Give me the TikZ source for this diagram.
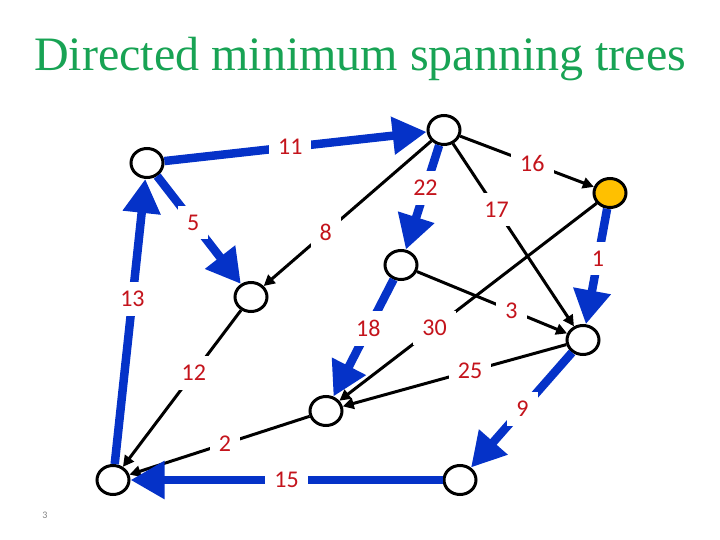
\documentclass[tikz,border=0pt]{standalone}
\usepackage{fontspec}
\setmainfont{Liberation Serif}
\newfontfamily\labelfont{Carlito}
\usetikzlibrary{arrows.meta,shapes.geometric}
\definecolor{titlegreen}{RGB}{24,163,84}
\definecolor{treeblue}{RGB}{5,50,200}
\definecolor{weightred}{RGB}{196,20,28}
\definecolor{rootorange}{RGB}{255,192,0}

\begin{document}
\begin{tikzpicture}[x=1pt,y=-1pt]
        {

          \tikzstyle{place}=[ellipse,line width=3pt,draw=black,fill=white,minimum width=32pt,minimum height=29pt,inner sep=0pt]
          \tikzstyle{root}=[place,fill=rootorange]
          \tikzstyle{plain}=[line width=3pt,draw=black,>={Triangle[length=11pt,width=11pt]}]
          \tikzstyle{tree}=[line width=8.5pt,draw=treeblue,>={Triangle[length=34pt,width=36pt]}]
          \tikzstyle{weight}=[fill=white,text=weightred,font=\labelfont\fontsize{24}{24}\selectfont,inner sep=9pt]
          \useasboundingbox (0,0) rectangle (720,540);

          \node (title) [anchor=base,text=titlegreen,font=\fontsize{48}{48}\selectfont] at (360,71) {Directed minimum spanning trees};
          \node (page) [text=gray,font=\labelfont\fontsize{10}{10}\selectfont] at (45,515) {3};

          \begin{scope}

            \node [place] (v1) at (147,163) {};

            \node [place] (v2) at (444,130) {}
            edge [tree,<-] node [weight,pos=0.52] {11} (v1);

            \node [root] (v3) at (610,193) {}
            edge [plain,<-] node [weight,pos=0.46] {16} (v2);

            \node [place] (v4) at (401,265) {}
            edge [tree,<-] node [weight,pos=0.59] {22} (v2);

            \node [place] (v5) at (251,297) {}
            edge [tree,<-] node [weight,pos=0.57] {5} (v1)
            edge [plain,<-] node [weight,pos=0.37] {8} (v2);

            \node [place] (v6) at (583,340) {}
            edge [plain,<-] node [weight,pos=0.64] {17} (v2)
            edge [tree,<-] node [weight,pos=0.57] {1} (v3)
            edge [plain,<-] node [weight,pos=0.37] {3} (v4);

            \node [place] (v7) at (326,411) {}
            edge [tree,<-] node [weight,pos=0.58] {18} (v4)
            edge [plain,<-] node [weight,pos=0.37] {30} (v3)
            edge [plain,<-] node [weight,pos=0.57] {25} (v6);

            \node [place] (v8) at (113,480) {}
            edge [tree,->] node [weight,pos=0.58] {13} (v1)
            edge [plain,<-] node [weight,pos=0.6] {12} (v5)
            edge [plain,<-] node [weight,pos=0.53] {2} (v7);

            \node [place] (v9) at (460,480) {}
            edge [tree,<-] node [weight,pos=0.51] {9} (v6)
            edge [tree,->] node [weight,pos=0.5] {15} (v8);

          \end{scope}
        }
\end{tikzpicture}
\end{document}
